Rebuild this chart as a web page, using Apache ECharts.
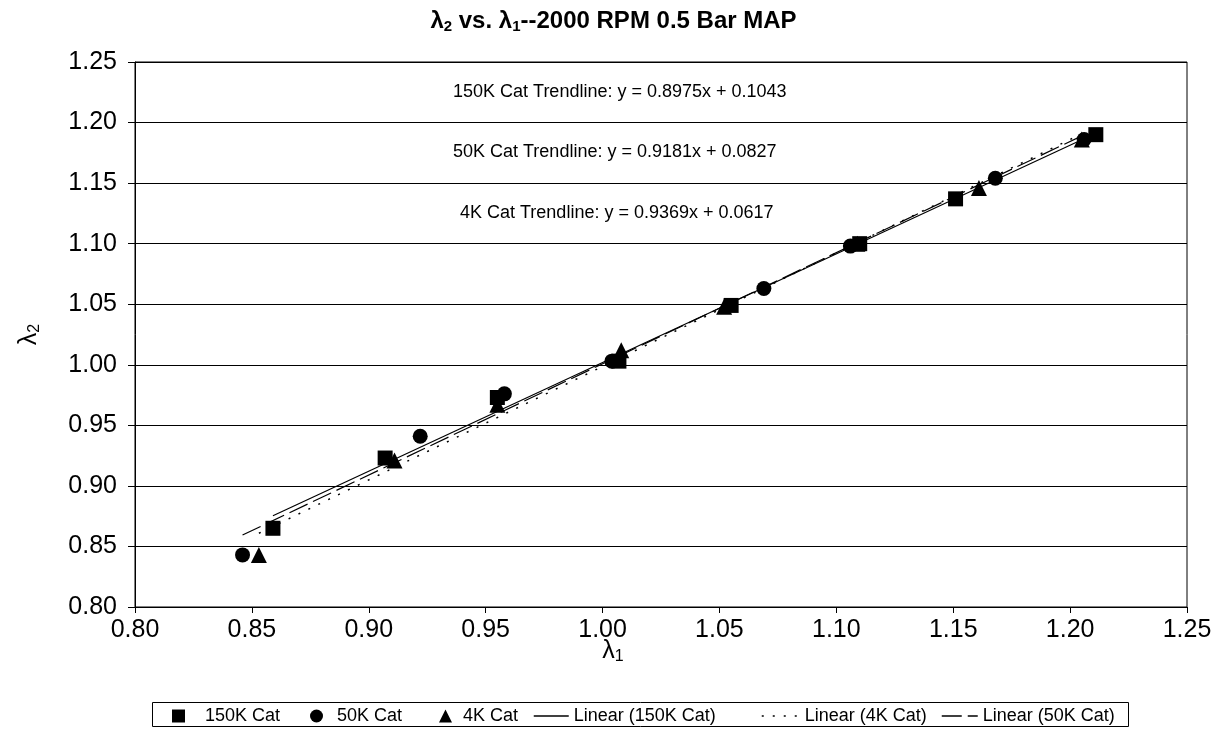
<!DOCTYPE html>
<html>
<head>
<meta charset="utf-8">
<script src="https://cdn.jsdelivr.net/npm/echarts@6/dist/echarts.min.js"></script>
<style>html,body{margin:0;padding:0;background:#fff;}#c{width:1227px;height:730px;}</style>
</head>
<body>
<div id="c"></div>
<script>
// ---- data ----
const cat150 = [[0.859,0.865],[0.907,0.923],[0.955,0.973],[1.007,1.003],[1.055,1.049],[1.110,1.100],[1.151,1.137],[1.211,1.190]];
const cat50  = [[0.846,0.843],[0.922,0.941],[0.958,0.976],[1.004,1.003],[1.069,1.063],[1.106,1.098],[1.168,1.154],[1.206,1.186]];
const cat4   = [[0.853,0.843],[0.911,0.921],[0.955,0.967],[1.008,1.012],[1.052,1.048],[1.109,1.100],[1.161,1.146],[1.205,1.186]];
// trendline end points (from the printed trendline equations)
const trend150 = [[0.859,0.8753],[1.211,1.1912]];
const trend4   = [[0.853,0.8609],[1.205,1.1907]];
const trend50  = [[0.846,0.8594],[1.206,1.1899]];
const trendTexts = [
  '150K Cat Trendline: y = 0.8975x + 0.1043',
  '50K Cat Trendline: y = 0.9181x + 0.0827',
  '4K Cat Trendline: y = 0.9369x + 0.0617'
];
const seriesNames = ['150K Cat','50K Cat','4K Cat','Linear (150K Cat)','Linear (4K Cat)','Linear (50K Cat)'];
const axisMin = 0.80, axisMax = 1.25, axisStep = 0.05;

const FONT = 'Liberation Sans, Arial, sans-serif';
const chart = echarts.init(document.getElementById('c'));
const sub = {a:{fontSize:25,fontFamily:FONT,color:'#000'}, s:{fontSize:16,fontFamily:FONT,color:'#000',padding:[12,0,0,0]}};
const dash50 = [20,6];
const dot4 = [2,9];
const LEG_TOP = 702;

function symLegend(name, left, pad){
  return {data:[name],left:left,top:LEG_TOP,itemWidth:13,itemHeight:13,
    itemStyle:{opacity:1},
    textStyle:{fontSize:18,fontFamily:FONT,color:'#000',padding:[0,0,0,pad]}};
}
function lineLegend(name, left, w, type){
  return {data:[name],left:left,top:LEG_TOP,itemWidth:w,itemHeight:13,
    itemStyle:{opacity:0,color:'rgba(0,0,0,0)',borderWidth:0},
    lineStyle:{color:'#000',width:1.5,type:type},
    textStyle:{fontSize:18,fontFamily:FONT,color:'#000'}};
}

chart.setOption({
  backgroundColor:'#fff',
  animation:false,
  title:{
    text:'{a|λ}{s|2}{a| vs. λ}{s|1}{a|--2000 RPM 0.5 Bar MAP}',
    left:'center', top:3,
    textStyle:{rich:{
      a:{fontSize:24,fontWeight:'bold',fontFamily:FONT,color:'#000'},
      s:{fontSize:15,fontWeight:'bold',fontFamily:FONT,color:'#000',padding:[11,0,0,0]}
    }}
  },
  grid:{left:135,right:40,top:62,bottom:123,show:true,borderColor:'#000',borderWidth:1},
  xAxis:{
    type:'value',min:axisMin,max:axisMax,interval:axisStep,
    name:'{a|λ}{s|1}',nameLocation:'middle',nameGap:30,nameMoveOverlap:false,
    nameTextStyle:{rich:sub,padding:[0,96,0,0]},
    axisLine:{lineStyle:{color:'#000',width:1}},
    axisTick:{show:true,length:6,lineStyle:{color:'#000'}},
    axisLabel:{fontSize:25,fontFamily:FONT,color:'#000',margin:11,formatter:v=>v.toFixed(2)},
    splitLine:{show:false}
  },
  yAxis:{
    type:'value',min:axisMin,max:axisMax,interval:axisStep,
    name:'{a|λ}{s|2}',nameLocation:'middle',nameGap:92,nameRotate:90,
    nameTextStyle:{rich:sub},
    axisLine:{lineStyle:{color:'#000',width:1}},
    axisTick:{show:true,length:7,lineStyle:{color:'#000'}},
    axisLabel:{fontSize:25,fontFamily:FONT,color:'#000',margin:18,formatter:v=>v.toFixed(2)},
    splitLine:{show:true,lineStyle:{color:'#000',width:1}}
  },
  legend:[
    symLegend(seriesNames[0],167,15),
    symLegend(seriesNames[1],305,9),
    symLegend(seriesNames[2],434,6),
    lineLegend(seriesNames[3],528,35,'solid'),
    lineLegend(seriesNames[4],756,38,dot4),
    lineLegend(seriesNames[5],936,36,dash50)
  ],
  graphic:[
    {type:'rect',shape:{x:152.5,y:702.5,width:976,height:24},style:{fill:'none',stroke:'#000',lineWidth:1},silent:true},
    {type:'text',x:453,y:92,style:{text:trendTexts[0],font:'18px '+FONT,fill:'#000',verticalAlign:'middle'}},
    {type:'text',x:453,y:152,style:{text:trendTexts[1],font:'18px '+FONT,fill:'#000',verticalAlign:'middle'}},
    {type:'text',x:460,y:213,style:{text:trendTexts[2],font:'18px '+FONT,fill:'#000',verticalAlign:'middle'}}
  ],
  series:[
    {name:seriesNames[0],type:'scatter',data:cat150,symbol:'rect',symbolSize:15,itemStyle:{color:'#000',opacity:1},z:3},
    {name:seriesNames[1],type:'scatter',data:cat50,symbol:'circle',symbolSize:15,itemStyle:{color:'#000',opacity:1},z:3},
    {name:seriesNames[2],type:'scatter',data:cat4,symbol:'triangle',symbolSize:16,itemStyle:{color:'#000',opacity:1},z:3},
    {name:seriesNames[3],type:'line',data:trend150,symbol:'none',lineStyle:{color:'#000',width:1.2,type:'solid'},itemStyle:{color:'#000'},z:4},
    {name:seriesNames[4],type:'line',data:trend4,symbol:'none',lineStyle:{color:'#000',width:1.5,type:dot4},itemStyle:{color:'#000'},z:4},
    {name:seriesNames[5],type:'line',data:trend50,symbol:'none',lineStyle:{color:'#000',width:1.2,type:dash50},itemStyle:{color:'#000'},z:4}
  ]
});
</script>
</body>
</html>
